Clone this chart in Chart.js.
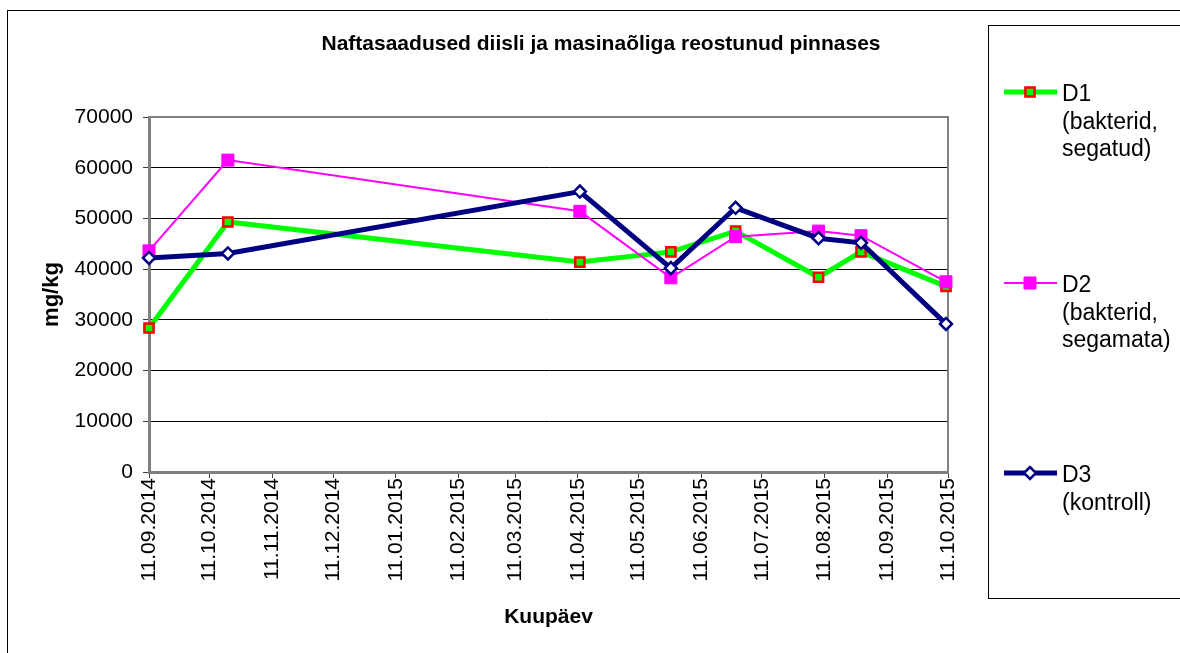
<!DOCTYPE html>
<html>
<head>
<meta charset="utf-8">
<title>Naftasaadused diisli ja masinaõliga reostunud pinnases</title>
<script src="https://cdn.jsdelivr.net/npm/chart.js@4.4.1/dist/chart.umd.min.js"></script>
<style>
  html, body { margin: 0; padding: 0; background: #fff; }
  canvas { display: block; }
</style>
</head>
<body>
<canvas id="naftaChart" width="1180" height="653"></canvas>
<script>
// sampling dates (dd.mm.yyyy) and measured values, mg/kg
const sampleDates = ['11.09.2014', '20.10.2014', '12.04.2015', '27.05.2015', '28.06.2015', '08.08.2015', '29.08.2015', '10.10.2015'];
const d1Values = [28400, 49300, 41400, 43400, 47500, 38400, 43400, 36600];
const d2Values = [43600, 61500, 51400, 38300, 46400, 47500, 46600, 37500];
const d3Values = [42200, 43100, 55300, 40200, 52100, 46100, 45200, 29200];

const xTickLabels = ['11.09.2014', '11.10.2014', '11.11.2014', '11.12.2014', '11.01.2015', '11.02.2015', '11.03.2015',
  '11.04.2015', '11.05.2015', '11.06.2015', '11.07.2015', '11.08.2015', '11.09.2015', '11.10.2015'];

const d1Label = ['D1', '(bakterid,', 'segatud)'];
const d2Label = ['D2', '(bakterid,', 'segamata)'];
const d3Label = ['D3', '(kontroll)'];

const chartTitle = 'Naftasaadused diisli ja masinaõliga reostunud pinnases';
const fontFamily = "Arial, 'Liberation Sans', sans-serif";

// days since the first tick, so the x axis behaves like a date axis
function dayNumber(str) {
  const [d, m, y] = str.split('.').map(Number);
  return (Date.UTC(y, m - 1, d) - Date.UTC(2014, 8, 11)) / 86400000;
}

const tickDays = xTickLabels.map(dayNumber);
const toPoints = vals => vals.map((v, i) => ({ x: dayNumber(sampleDates[i]), y: v }));

// frame, title, plot border and the boxed legend on the right
const decorPlugin = {
  id: 'decor',
  beforeDatasetsDraw(chart) {
    const { ctx, chartArea: a } = chart;
    ctx.save();
    ctx.strokeStyle = '#808080';
    ctx.lineWidth = 2;
    ctx.beginPath();
    ctx.moveTo(a.left, a.top);
    ctx.lineTo(a.right, a.top);
    ctx.lineTo(a.right, a.bottom);
    ctx.stroke();
    ctx.restore();
  },
  afterDraw(chart) {
    const { ctx } = chart;
    ctx.save();

    // outer frame
    ctx.strokeStyle = '#000';
    ctx.lineWidth = 1;
    ctx.strokeRect(7.5, 10.5, 1190, 660);

    // title
    ctx.fillStyle = '#000';
    ctx.font = `bold 21px ${fontFamily}`;
    ctx.textAlign = 'center';
    ctx.textBaseline = 'middle';
    ctx.fillText(chartTitle, 601, 44);

    // legend box
    ctx.strokeStyle = '#000';
    ctx.strokeRect(988.5, 25.5, 220, 573);

    const rows = [92, 283, 473];
    const labels = [d1Label, d2Label, d3Label];
    chart.data.datasets.forEach((ds, i) => {
      const y = rows[i];
      ctx.strokeStyle = ds.borderColor;
      ctx.lineWidth = ds.borderWidth;
      ctx.beginPath();
      ctx.moveTo(1004, y);
      ctx.lineTo(1057, y);
      ctx.stroke();

      ctx.fillStyle = ds.pointBackgroundColor;
      ctx.strokeStyle = ds.pointBorderColor;
      ctx.lineWidth = ds.pointBorderWidth;
      Chart.helpers.drawPoint(ctx, {
        pointStyle: ds.pointStyle,
        radius: ds.pointRadius,
        rotation: 0,
        borderWidth: ds.pointBorderWidth
      }, 1030, y);

      ctx.fillStyle = '#000';
      ctx.font = `23px ${fontFamily}`;
      ctx.textAlign = 'left';
      ctx.textBaseline = 'middle';
      labels[i].forEach((line, j) => ctx.fillText(line, 1062, y + 3 + j * 27.5));
    });

    ctx.restore();
  }
};

new Chart(document.getElementById('naftaChart'), {
  type: 'line',
  data: {
    datasets: [
      {
        label: d1Label.join(' '),
        data: toPoints(d1Values),
        borderColor: '#00FF00',
        borderWidth: 5,
        pointStyle: 'rect',
        pointRadius: 6.5,
        pointBackgroundColor: '#00FF00',
        pointBorderColor: '#FF0000',
        pointBorderWidth: 2.5,
        order: 2,
        clip: false
      },
      {
        label: d2Label.join(' '),
        data: toPoints(d2Values),
        borderColor: '#FF00FF',
        borderWidth: 2,
        pointStyle: 'rect',
        pointRadius: 8.5,
        pointBackgroundColor: '#FF00FF',
        pointBorderColor: '#FF00FF',
        pointBorderWidth: 1,
        order: 1,
        clip: false
      },
      {
        label: d3Label.join(' '),
        data: toPoints(d3Values),
        borderColor: '#000080',
        borderWidth: 5,
        pointStyle: 'rectRot',
        pointRadius: 6,
        pointBackgroundColor: '#FFFFFF',
        pointBorderColor: '#000080',
        pointBorderWidth: 2.5,
        order: 0,
        clip: false
      }
    ]
  },
  options: {
    responsive: false,
    animation: false,
    layout: { padding: { left: 0, top: 117, right: 232, bottom: 0 } },
    elements: { line: { tension: 0 } },
    plugins: {
      legend: { display: false },
      title: { display: false },
      tooltip: { enabled: false }
    },
    scales: {
      x: {
        type: 'linear',
        min: tickDays[0],
        max: tickDays[tickDays.length - 1],
        afterBuildTicks: scale => {
          scale.ticks = tickDays.map(v => ({ value: v }));
        },
        afterFit: scale => { scale.height = 181; },
        ticks: {
          autoSkip: false,
          minRotation: 90,
          maxRotation: 90,
          padding: 0,
          color: '#000',
          font: { family: fontFamily, size: 21 },
          callback: (val, i) => xTickLabels[i]
        },
        grid: {
          drawOnChartArea: false,
          drawTicks: true,
          tickLength: 6,
          color: '#404040'
        },
        border: { display: true, color: '#808080', width: 3 },
        title: {
          display: true,
          text: 'Kuupäev',
          color: '#000',
          font: { family: fontFamily, size: 21, weight: 'bold' },
          padding: { top: 0, bottom: 23 }
        }
      },
      y: {
        min: 0,
        max: 70000,
        afterFit: scale => { scale.width = 149; },
        ticks: {
          stepSize: 10000,
          padding: 10,
          color: '#000',
          font: { family: fontFamily, size: 21 },
          callback: v => String(v)
        },
        grid: {
          color: '#000',
          lineWidth: 1,
          tickLength: 6,
          tickColor: '#404040'
        },
        border: { display: true, color: '#808080', width: 3 },
        title: {
          display: true,
          text: 'mg/kg',
          color: '#000',
          font: { family: fontFamily, size: 22, weight: 'bold' },
          padding: { top: 39, bottom: 0 }
        }
      }
    }
  },
  plugins: [decorPlugin]
});
</script>
</body>
</html>
